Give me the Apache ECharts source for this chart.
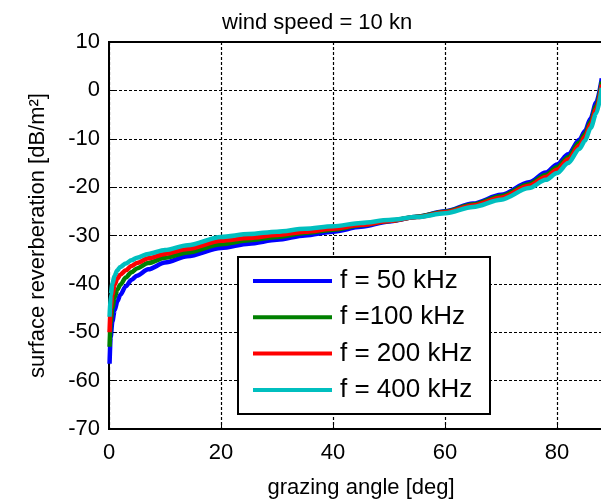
<!DOCTYPE html>
<html>
<head>
<meta charset="utf-8">
<script src="https://cdn.jsdelivr.net/npm/echarts@6/dist/echarts.min.js"></script>
<style>
  html, body { margin: 0; padding: 0; background: #fff; }
  #chart { width: 601px; height: 504px; }
</style>
</head>
<body>
<div id="chart"></div>
<script>
// Grazing angle samples (deg)
var angles = [0.1, 0.3, 0.6, 1, 1.5, 2, 3, 4, 5, 7, 10, 14, 20, 25, 30, 35, 40, 45, 50, 55, 60, 65, 70, 75, 78, 80, 82, 84, 85, 86, 87, 88];

// Surface reverberation strength (dB/m^2) per frequency
var rev50 = [-56.5, -51, -47.8, -45.5, -43.6, -42.3, -40.5, -39.2, -38.3, -37.0, -35.6, -34.3, -32.6, -31.7, -30.9, -30.0, -29.2, -28.2, -27.1, -26.1, -25.0, -23.4, -21.6, -19.0, -17.0, -15.3, -13.2, -10.2, -8.4, -5.8, -2.5, 2.5];
var rev100 = [-53, -48, -45, -42.8, -41.2, -40.2, -38.7, -37.6, -36.8, -35.7, -34.6, -33.5, -31.8, -31.0, -30.3, -29.5, -28.8, -27.9, -27.0, -26.1, -25.1, -23.6, -21.9, -19.4, -17.5, -15.9, -13.8, -10.8, -9.0, -6.5, -3.3, 1.8];
var rev200 = [-50, -45, -42.2, -40.2, -38.9, -38.1, -37.2, -36.3, -35.7, -34.7, -33.8, -32.8, -31.1, -30.5, -29.9, -29.2, -28.6, -27.8, -27.0, -26.2, -25.2, -23.8, -22.2, -19.7, -17.9, -16.4, -14.3, -11.4, -9.6, -7.0, -3.9, 1.2];
var rev400 = [-46.8, -42.3, -40, -38.3, -37.2, -36.5, -35.8, -35.1, -34.6, -33.8, -33.0, -32.0, -30.3, -29.7, -29.2, -28.6, -28.1, -27.4, -26.8, -26.2, -25.4, -24.1, -22.6, -20.2, -18.5, -17.1, -15.0, -12.1, -10.4, -7.8, -4.8, 0.5];

var seriesNames = ['f = 50 kHz', 'f =100 kHz', 'f = 200 kHz', 'f = 400 kHz'];
var seriesColors = ['#0000ff', '#008000', '#ff0000', '#00bfbf'];
var seriesValues = [rev50, rev100, rev200, rev400];

var xTicks = [0, 20, 40, 60, 80];
var yTicks = [-70, -60, -50, -40, -30, -20, -10, 0, 10];

var FONT = 'Liberation Sans, Arial, sans-serif';

function pairs(xs, ys) {
  return xs.map(function (x, i) { return [x, ys[i]]; });
}

var chart = echarts.init(document.getElementById('chart'), null, { renderer: 'canvas' });

var gridLine = { show: true, lineStyle: { color: '#000', width: 1.2, type: [3, 2] } };

chart.setOption({
  animation: false,
  backgroundColor: '#fff',
  title: {
    text: 'wind speed = 10 kn',
    left: 217,
    top: 7,
    textStyle: { fontFamily: FONT, fontSize: 22, fontWeight: 'normal', color: '#000' }
  },
  // the axes box runs to 90 deg, a little past the right edge of the page
  grid: {
    left: 109, top: 42, width: 504, height: 387,
    outerBoundsMode: 'none',
    containLabel: false,
    show: true, borderColor: '#000', borderWidth: 2, backgroundColor: 'transparent'
  },
  legend: {
    orient: 'vertical',
    left: 238,
    top: 257,
    data: seriesNames,
    icon: 'rect',
    itemWidth: 79,
    itemHeight: 4,
    itemGap: 10.3,
    padding: [11, 13, 11, 15],
    backgroundColor: '#fff',
    borderColor: '#000',
    borderWidth: 2,
    textStyle: {
      fontFamily: FONT, fontSize: 26, color: '#000',
      width: 137, lineHeight: 24, padding: [0, 0, 0, 3]
    }
  },
  xAxis: {
    type: 'value',
    min: 0, max: 90, interval: 20,
    name: 'grazing angle [deg]',
    nameLocation: 'middle',
    nameGap: 48,
    nameTextStyle: { fontFamily: FONT, fontSize: 22, color: '#000' },
    axisLine: { show: true, onZero: false, lineStyle: { color: '#000', width: 2 } },
    axisTick: { show: true, inside: true, length: 5, lineStyle: { color: '#000' } },
    axisLabel: {
      fontFamily: FONT, fontSize: 22, color: '#000', margin: 13,
      formatter: function (v) { return xTicks.indexOf(v) >= 0 ? String(v) : ''; }
    },
    splitLine: gridLine
  },
  yAxis: {
    type: 'value',
    min: -70, max: 10, interval: 10,
    name: 'surface reverberation [dB/m²]',
    nameLocation: 'middle',
    nameGap: 60,
    nameTextStyle: { fontFamily: FONT, fontSize: 22, color: '#000' },
    axisLine: { show: true, onZero: false, lineStyle: { color: '#000', width: 2 } },
    axisTick: { show: true, inside: true, length: 5, lineStyle: { color: '#000' } },
    axisLabel: {
      fontFamily: FONT, fontSize: 22, color: '#000', margin: 9,
      formatter: function (v) { return yTicks.indexOf(v) >= 0 ? String(v) : ''; }
    },
    splitLine: gridLine
  },
  series: seriesValues.map(function (vals, i) {
    return {
      name: seriesNames[i],
      type: 'line',
      data: pairs(angles, vals),
      showSymbol: false,
      symbol: 'none',
      smooth: 0.3,
      smoothMonotone: 'x',
      color: seriesColors[i],
      lineStyle: { color: seriesColors[i], width: 4.5 },
      z: 2 + i
    };
  })
});
</script>
</body>
</html>
